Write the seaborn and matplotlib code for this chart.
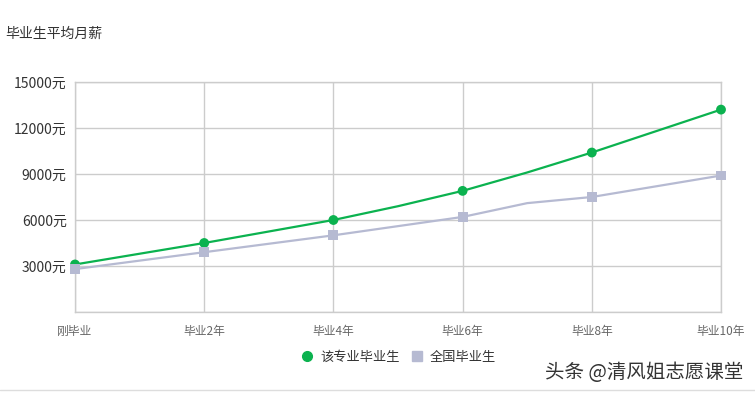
import numpy as np
import pandas as pd
import matplotlib.pyplot as plt
from matplotlib.lines import Line2D
import seaborn as sns

# Data
years = [0, 1, 2, 3, 4, 5, 6, 7, 8, 9, 10]
major_salary = [3100, 3800, 4500, 5250, 6000, 6900, 7900, 9100, 10400, 11800, 13200]
national_salary = [2800, 3350, 3900, 4450, 5000, 5600, 6200, 7100, 7500, 8200, 8900]
tick_years = [0, 2, 4, 6, 8, 10]
tick_labels = ["刚毕业", "毕业2年", "毕业4年", "毕业6年", "毕业8年", "毕业10年"]
y_ticks = [3000, 6000, 9000, 12000, 15000]
series_names = ["该专业毕业生", "全国毕业生"]

GREEN = "#0bb24f"
GRAY = "#b6bad2"

sns.set_theme(style="white")
plt.rcParams['font.family'] = ['Noto Sans CJK SC', 'DejaVu Sans']

df = pd.DataFrame({
    "year": years * 2,
    "salary": major_salary + national_salary,
    "series": [series_names[0]] * len(years) + [series_names[1]] * len(years),
})
marks = df[df["year"].isin(tick_years)]

fig = plt.figure(figsize=(7.55, 3.94), dpi=100)
ax = fig.add_axes([75 / 755, 1 - 312 / 394, (721 - 75) / 755, (312 - 82) / 394])

sns.lineplot(data=df, x="year", y="salary", hue="series",
             palette=[GREEN, GRAY], linewidth=1.6, legend=False, ax=ax, zorder=3)
sns.scatterplot(data=marks[marks["series"] == series_names[0]], x="year", y="salary",
                color=GREEN, marker="o", s=50, edgecolor="none", legend=False, ax=ax, zorder=4)
sns.scatterplot(data=marks[marks["series"] == series_names[1]], x="year", y="salary",
                color=GRAY, marker="s", s=50, edgecolor="none", legend=False, ax=ax, zorder=4)
for c in ax.collections:
    c.set_clip_on(False)

ax.set_xlim(0, 10)
ax.set_ylim(0, 15000)
ax.set_xticks(tick_years)
ax.set_xticklabels(tick_labels, fontsize=8.5, color="#666666")
ax.set_yticks([0] + y_ticks)
ax.set_yticklabels([""] + [f"{v}元" for v in y_ticks], fontsize=10, color="#333333")
ax.tick_params(axis="both", length=0, pad=6)
ax.tick_params(axis="x", pad=9)
ax.grid(True, color="#cccccc", linewidth=1)
for s in ax.spines.values():
    s.set_visible(True)
    s.set_color("#cccccc")
    s.set_linewidth(1)
ax.set_xlabel("")
ax.set_ylabel("")

fig.text(5 / 755, 1 - 34 / 394, "毕业生平均月薪", fontsize=10, color="#333333", va="center")

handles = [
    Line2D([], [], marker="o", color=GREEN, linestyle="none", markersize=7),
    Line2D([], [], marker="s", color=GRAY, linestyle="none", markersize=7),
]
fig.legend(handles, series_names, loc="center", bbox_to_anchor=(395 / 755, 1 - 357 / 394),
           ncol=2, frameon=False, fontsize=9.5, handletextpad=0.0, columnspacing=0.3,
           labelcolor="#333333")

fig.text(743 / 755, 1 - 372 / 394, "头条 @清风姐志愿课堂", fontsize=14, color="#333333",
         ha="right", va="center")
fig.add_artist(Line2D([0, 1], [1 - 390 / 394] * 2, color="#dddddd", linewidth=1))

fig.savefig("out.png", dpi=100)
